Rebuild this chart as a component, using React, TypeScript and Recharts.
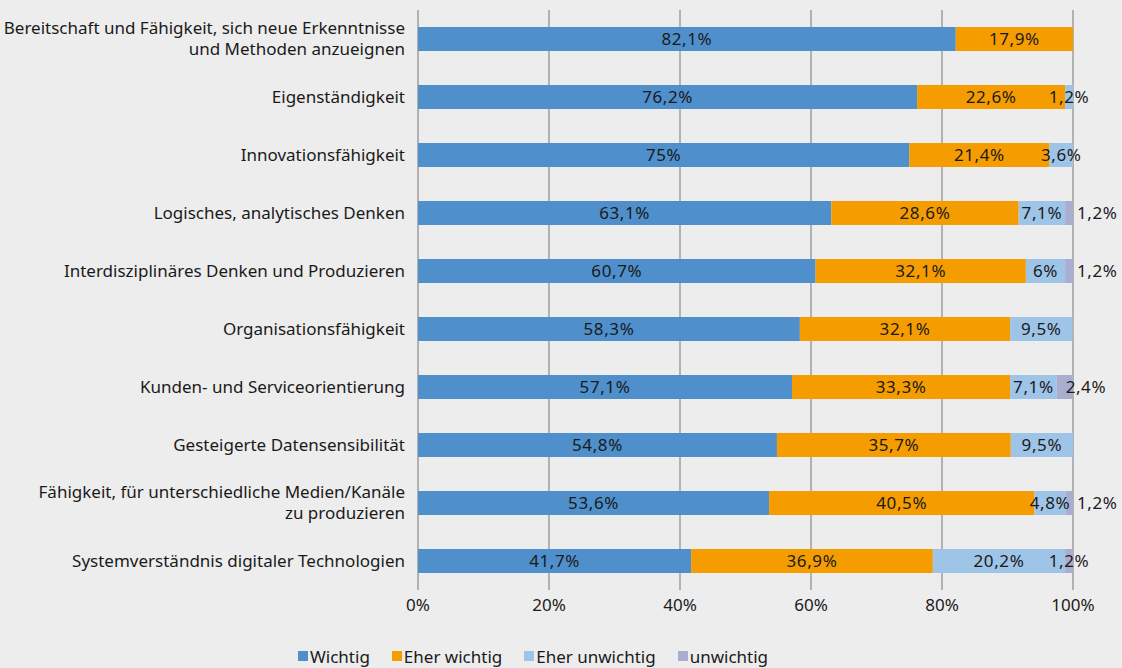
import React from 'react';
import { BarChart, Bar, XAxis, YAxis, CartesianGrid, Legend, LabelList } from 'recharts';

const categories = [
  'Bereitschaft und Fähigkeit, sich neue Erkenntnisse\nund Methoden anzueignen',
  'Eigenständigkeit',
  'Innovationsfähigkeit',
  'Logisches, analytisches Denken',
  'Interdisziplinäres Denken und Produzieren',
  'Organisationsfähigkeit',
  'Kunden- und Serviceorientierung',
  'Gesteigerte Datensensibilität',
  'Fähigkeit, für unterschiedliche Medien/Kanäle\nzu produzieren',
  'Systemverständnis digitaler Technologien',
];
const wichtig = [82.1, 76.2, 75, 63.1, 60.7, 58.3, 57.1, 54.8, 53.6, 41.7];
const eherWichtig = [17.9, 22.6, 21.4, 28.6, 32.1, 32.1, 33.3, 35.7, 40.5, 36.9];
const eherUnwichtig = [0, 1.2, 3.6, 7.1, 6, 9.5, 7.1, 9.5, 4.8, 20.2];
const unwichtig = [0, 0, 0, 1.2, 1.2, 0, 2.4, 0, 1.2, 1.2];
const xTicks = [0, 20, 40, 60, 80, 100];

const seriesNames = ['Wichtig', 'Eher wichtig', 'Eher unwichtig', 'unwichtig'];
const colors = ['#4e8fcc', '#f59d00', '#9ec4e7', '#a9adcf'];

const data = categories.map((c, i) => ({
  cat: c,
  w: wichtig[i],
  ew: eherWichtig[i],
  eu: eherUnwichtig[i],
  u: unwichtig[i],
}));

const FONT = '"Noto Sans", sans-serif';
const FS = 17;
const fmt = (v: number) => String(v).replace('.', ',') + '%';

const YTick = (props: any) => {
  const { x, y, payload } = props;
  const lines = String(payload.value).split('\n');
  const lh = 21;
  const start = -((lines.length - 1) * lh) / 2;
  return (
    <g>
      {lines.map((l: string, k: number) => (
        <text
          key={k}
          x={x - 5}
          y={y + start + k * lh}
          dy="0.35em"
          textAnchor="end"
          fontSize={FS}
          fontFamily={FONT}
          fill="#1a1a1a"
        >
          {l}
        </text>
      ))}
    </g>
  );
};

const centerLabel = (props: any) => {
  const { x, y, width, height, value } = props;
  if (!value) return null;
  return (
    <text
      x={x + width / 2}
      y={y + height / 2}
      dy="0.35em"
      textAnchor="middle"
      fontSize={FS}
      letterSpacing={0.6}
      fontFamily={FONT}
      fill="#1a1a1a"
    >
      {fmt(value)}
    </text>
  );
};

const unwAccessor = (entry: any) => `${categories.indexOf(entry.cat)}|${entry.u}`;

const unwLabel = (props: any) => {
  const { x, y, width, height, value } = props;
  const [idxStr, valStr] = String(value).split('|');
  const index = Number(idxStr);
  const v = Number(valStr);
  if (!v) return null;
  let tx = x + width + 4;
  let anchor = 'start';
  if (index === categories.length - 1) {
    tx = x + width / 2;
    anchor = 'middle';
  } else if (index === 6) {
    tx = x + 9;
  }
  return (
    <text
      x={tx}
      y={y + height / 2}
      dy="0.35em"
      textAnchor={anchor}
      fontSize={FS}
      letterSpacing={0.6}
      fontFamily={FONT}
      fill="#1a1a1a"
    >
      {fmt(v)}
    </text>
  );
};

const LegendContent = () => (
  <div
    style={{
      display: 'flex',
      marginLeft: 298,
      fontFamily: FONT,
      fontSize: FS,
      color: '#1a1a1a',
      alignItems: 'center',
      height: 24,
      whiteSpace: 'nowrap',
    }}
  >
    {seriesNames.map((n, i) => (
      <div key={n} style={{ display: 'flex', alignItems: 'center', marginRight: 22 }}>
        <span style={{ width: 10, height: 10, background: colors[i], display: 'inline-block', marginRight: 2 }} />
        <span>{n}</span>
      </div>
    ))}
  </div>
);

export default function App() {
  return (
    <div style={{ position: 'fixed', left: 0, top: 0, width: 1122, height: 668, background: '#ededed' }}>
      <BarChart
        width={1122}
        height={668}
        data={data}
        layout="vertical"
        margin={{ top: 10, right: 49, bottom: 0, left: 0 }}
        barSize={24}
      >
        <CartesianGrid horizontal={false} vertical={true} stroke="#8a8a8a" strokeWidth={1.2} />
        <XAxis
          type="number"
          domain={[0, 100]}
          ticks={xTicks}
          allowDataOverflow
          axisLine={false}
          tickLine={false}
          tickSize={0}
          tickMargin={9}
          height={54}
          tickFormatter={(v: number) => `${v}%`}
          tick={{ fontSize: FS, fontFamily: FONT, fill: '#1a1a1a' }}
          interval={0}
        />
        <YAxis
          type="category"
          dataKey="cat"
          width={418}
          axisLine={false}
          tickLine={false}
          tick={<YTick />}
          interval={0}
        />
        <Legend verticalAlign="bottom" height={24} wrapperStyle={{ left: 0, width: 1122 }} content={<LegendContent />} />
        <Bar dataKey="w" stackId="a" fill={colors[0]} name={seriesNames[0]} isAnimationActive={false}>
          <LabelList dataKey="w" content={centerLabel} />
        </Bar>
        <Bar dataKey="ew" stackId="a" fill={colors[1]} name={seriesNames[1]} isAnimationActive={false}>
          <LabelList dataKey="ew" content={centerLabel} />
        </Bar>
        <Bar dataKey="eu" stackId="a" fill={colors[2]} name={seriesNames[2]} isAnimationActive={false}>
          <LabelList dataKey="eu" content={centerLabel} />
        </Bar>
        <Bar dataKey="u" stackId="a" fill={colors[3]} name={seriesNames[3]} isAnimationActive={false}>
          <LabelList dataKey={unwAccessor} content={unwLabel} />
        </Bar>
      </BarChart>
    </div>
  );
}
